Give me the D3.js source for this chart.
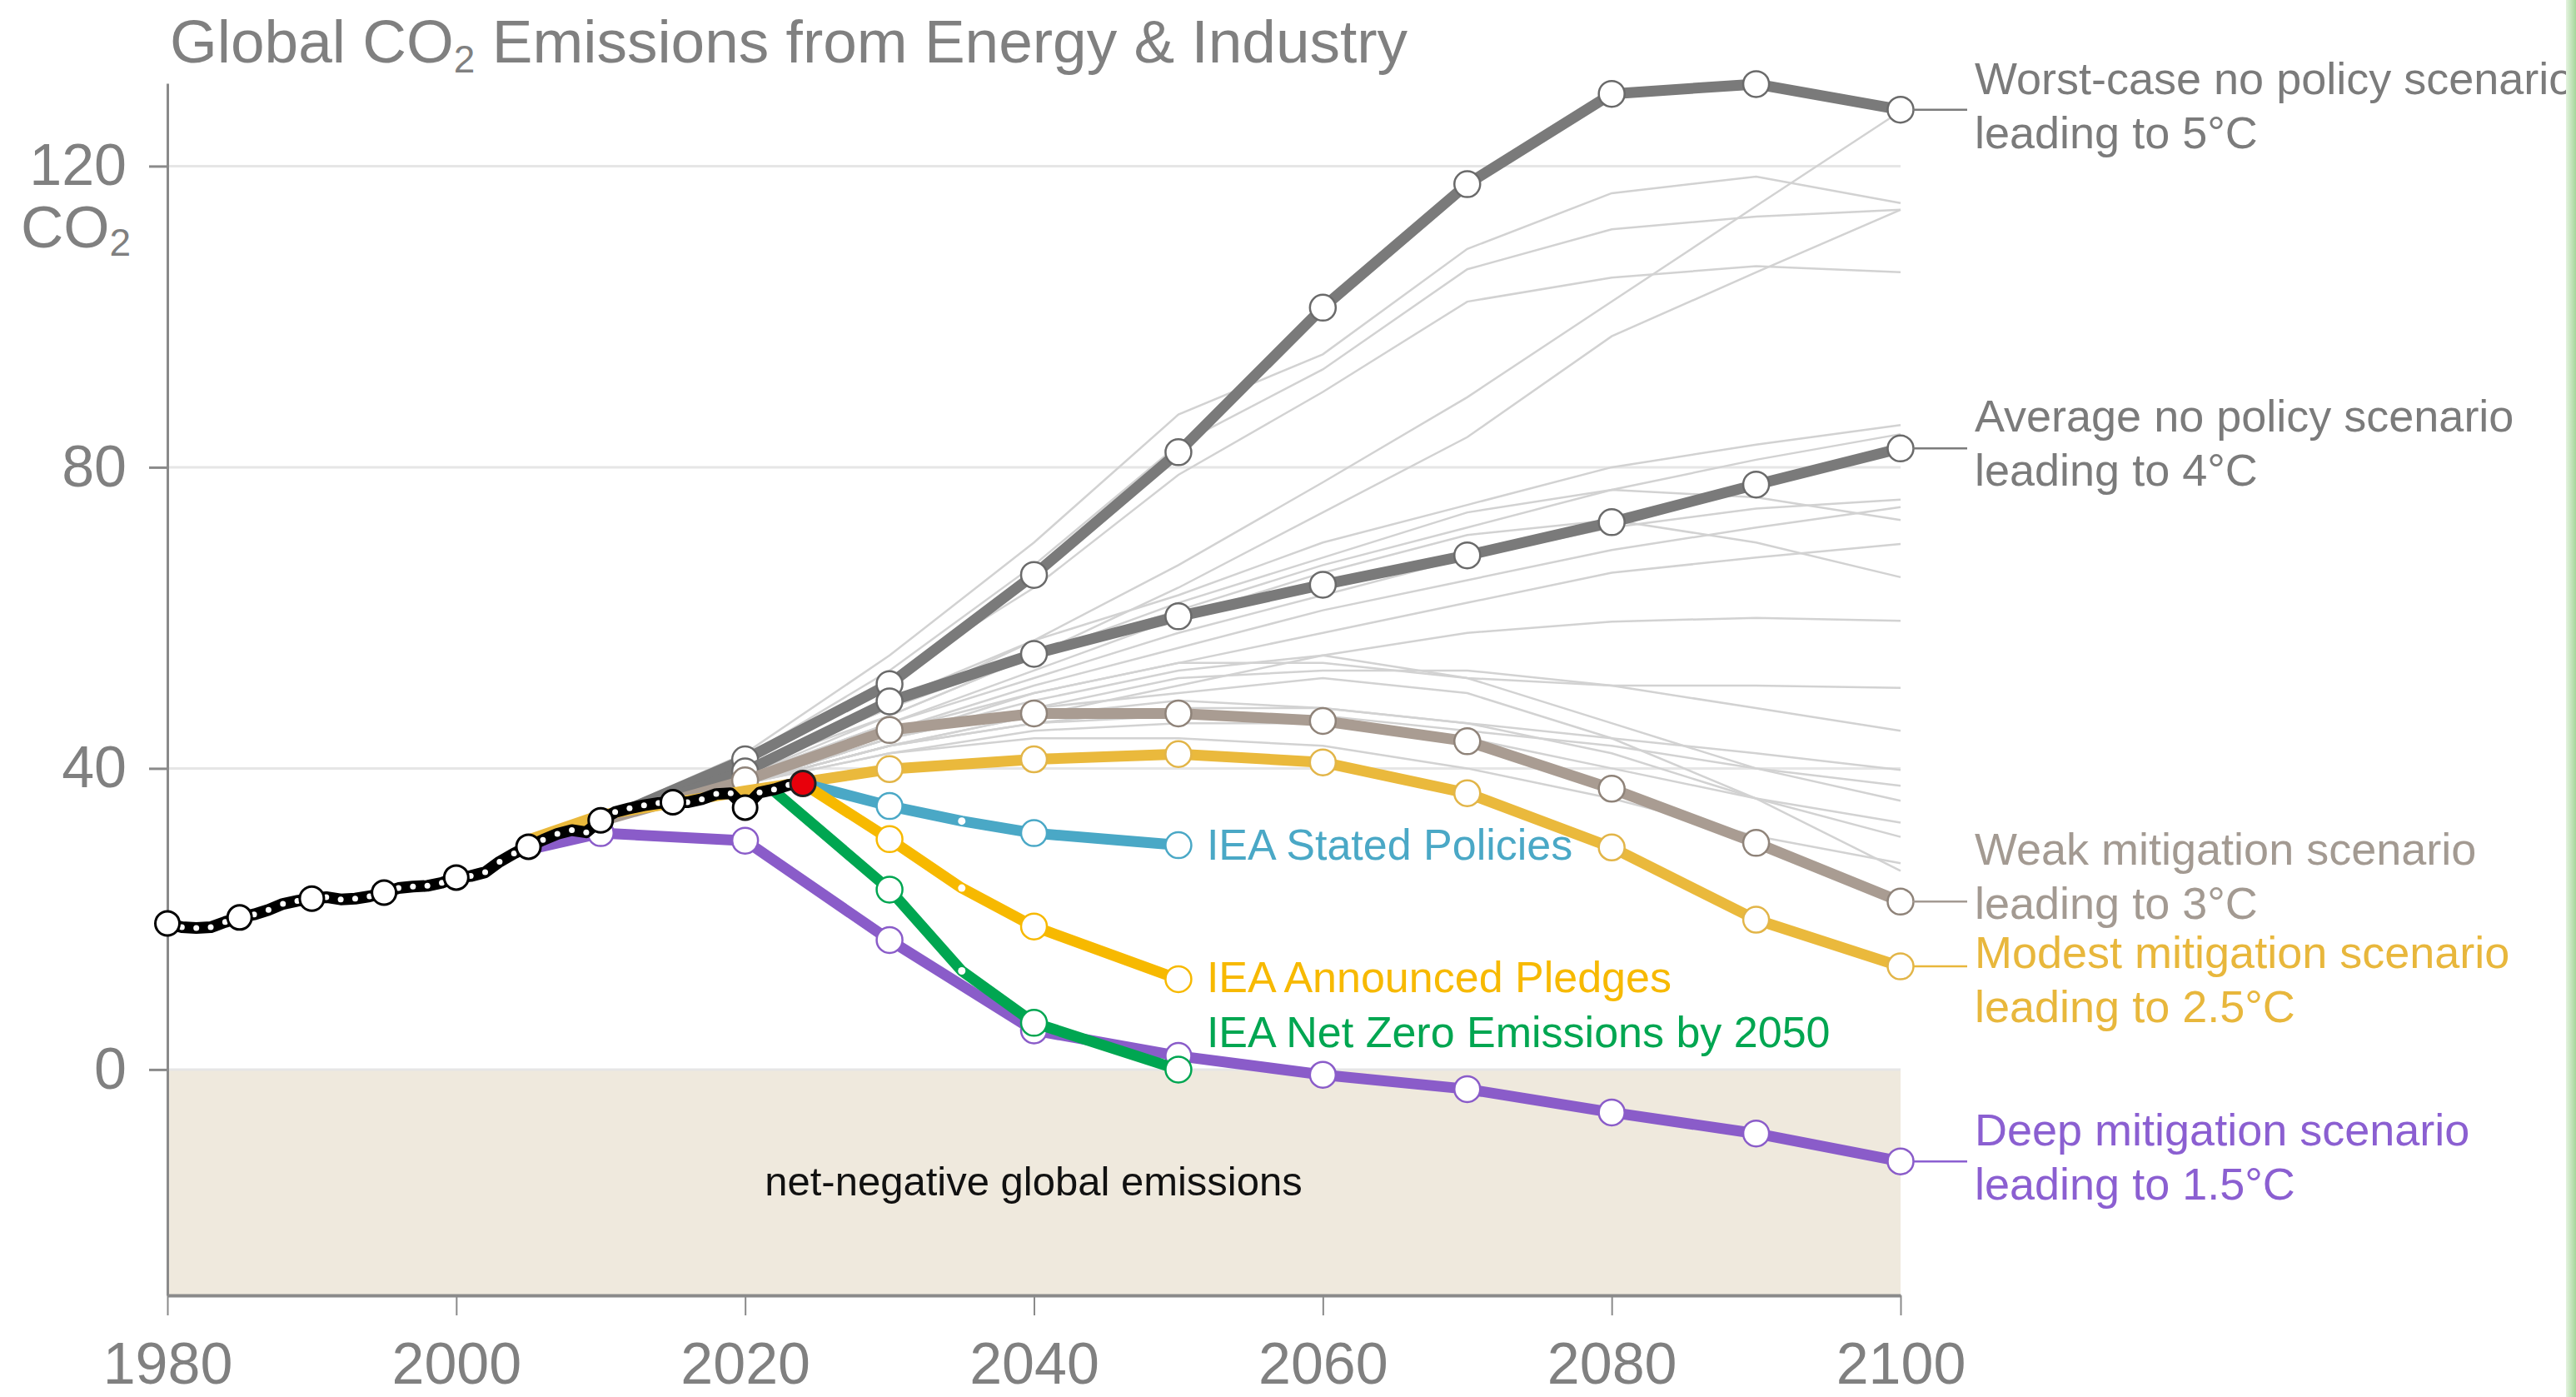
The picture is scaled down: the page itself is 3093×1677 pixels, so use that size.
<!DOCTYPE html>
<html><head><meta charset="utf-8">
<script src="https://cdn.jsdelivr.net/npm/d3@7"></script>
<style>
html,body{margin:0;padding:0;background:#fff;}
svg{display:block;font-family:"Liberation Sans",Arial,Helvetica,sans-serif;}
</style>
</head><body>
<svg id="chart" width="3093" height="1677"></svg>
<script>
// ---------------- DATA ----------------
const xTicks = [1980, 2000, 2020, 2040, 2060, 2080, 2100];
const yTicks = [0, 40, 80, 120];

const histYears = [1980,1981,1982,1983,1984,1985,1986,1987,1988,1989,1990,1991,1992,1993,1994,1995,1996,1997,1998,1999,2000,2001,2002,2003,2004,2005,2006,2007,2008,2009,2010,2011,2012,2013,2014,2015,2016,2017,2018,2019,2020,2021,2022,2023,2024];
const histValues = [19.4,18.9,18.8,18.9,19.6,20.2,20.6,21.2,22.0,22.4,22.7,22.9,22.6,22.7,23.0,23.5,24.1,24.3,24.4,24.8,25.5,25.7,26.2,27.6,28.7,29.6,30.5,31.3,31.8,31.5,33.1,34.2,34.7,35.1,35.4,35.5,35.5,35.9,36.6,36.7,34.8,36.8,37.2,37.8,38.0];

const worstYears  = [2005,2010,2020,2030,2040,2050,2060,2070,2080,2090,2100];
const worstValues = [29.5,33.0,41.2,51.2,65.7,82.0,101.2,117.6,129.6,130.9,127.5];

const avgYears  = [2005,2010,2020,2030,2040,2050,2060,2070,2080,2090,2100];
const avgValues = [29.5,33.0,39.6,48.9,55.2,60.2,64.4,68.3,72.7,77.7,82.5];

const weakYears  = [2010,2020,2030,2040,2050,2060,2070,2080,2090,2100];
const weakValues = [33.0,38.4,45.1,47.3,47.3,46.3,43.6,37.3,30.1,22.3];

const modestYears  = [2005,2010,2020,2030,2040,2050,2060,2070,2080,2090,2100];
const modestValues = [30.5,33.8,37.0,39.9,41.2,41.9,40.8,36.7,29.5,19.9,13.7];

const deepYears  = [2005,2010,2020,2030,2040,2050,2060,2070,2080,2090,2100];
const deepValues = [29.2,31.4,30.4,17.2,5.2,1.8,-0.7,-2.6,-5.7,-8.5,-12.2];

const statedYears  = [2024,2030,2035,2040,2050];
const statedValues = [38.0,35.0,33.0,31.4,29.8];

const pledgesYears  = [2024,2030,2035,2040,2050];
const pledgesValues = [38.0,30.6,24.1,19.0,12.0];

const nzeYears  = [2022,2030,2035,2040,2050];
const nzeValues = [37.0,23.9,13.1,6.2,0.0];

const thinYears = [2010,2020,2030,2040,2050,2060,2070,2080,2090,2100];
const thinLines = [
  [33.5,42.0,55,70,87,95,109,116.4,118.6,115.1],
  [33.5,41.5,53,67,83,93,106.3,111.6,113.3,114.2],
  [33.5,41.0,52,64,79,90,102,105.2,106.7,105.9],
  [33.5,40.0,48,57,67,78,89.3,102,114.7,127.3],
  [33.5,40.0,47,55,64,74,84,97.4,105.9,114.2],
  [33.5,40,49,57,63,70,75,80,83,85.6],
  [33.5,40,48,55,61,67,72,77,81,84.4],
  [33.5,39,46,52,58,63,68,72,74.5,75.7],
  [33.5,39,45,51,56,61,65,69,72,74.7],
  [33.5,39,47,55,62,68,74,77,76,73.0],
  [33.5,39,45,50,54,58,62,66,68,69.8],
  [33.5,39,46,53,60,66,71,73,70,65.4],
  [33.5,38,43,47,51,55,58,59.5,60,59.6],
  [33.5,38,44,50,54,54,52,51,51,50.7],
  [33.5,38,44,48,52,53,53,51,48,45.0],
  [33.5,38,43,46,48,48,46,44,42,39.8],
  [33.5,38,44,49,53,55,52,46,40,35.7],
  [33.5,38,42,45,46,46,44,40,36,32.8],
  [33.5,38,43,47,49,48,46,42,36,30.9],
  [33.5,38,42,44,44,43,40,36,31,27.4],
  [33.5,38,44,48,50,52,50,44,36,26.4],
  [33.5,38,43,46,47,47,45,43,40,37.7]
];

const rightLabels = [
  ["Worst-case no policy scenario", "leading to 5°C"],
  ["Average no policy scenario", "leading to 4°C"],
  ["Weak mitigation scenario", "leading to 3°C"],
  ["Modest mitigation scenario", "leading to 2.5°C"],
  ["Deep mitigation scenario", "leading to 1.5°C"]
];
const ieaLabels = ["IEA Stated Policies", "IEA Announced Pledges", "IEA Net Zero Emissions by 2050"];

// ---------------- LAYOUT / STYLE ----------------
const svg = d3.select("#chart");
const x = d3.scaleLinear().domain([1980, 2100]).range([201, 2282]);
const y = d3.scaleLinear().domain([-30, 131]).range([1555, 100]);
const FONT_GREY = "#808080";
const LW = 13;

svg.append("rect").attr("width", 3093).attr("height", 1677).attr("fill", "#fff");

// negative area
svg.append("rect")
  .attr("x", x(1980)).attr("y", y(0))
  .attr("width", x(2100) - x(1980)).attr("height", y(-30) - y(0))
  .attr("fill", "#efe9dd");

// gridlines
svg.append("g").selectAll("line").data(yTicks).join("line")
  .attr("x1", x(1980)).attr("x2", x(2100))
  .attr("y1", d => y(d)).attr("y2", d => y(d))
  .attr("stroke", "#e6e6e6").attr("stroke-width", 3);

svg.append("text")
  .attr("x", 1241).attr("y", 1435)
  .attr("text-anchor", "middle")
  .attr("font-size", 49).attr("fill", "#111")
  .text("net-negative global emissions");

// axes
const yAxis = svg.append("g").attr("transform", `translate(${x(1980)},0)`)
  .call(d3.axisLeft(y).tickValues(yTicks).tickSize(22).tickPadding(27).tickSizeOuter(0).tickFormat(d3.format("d")));
yAxis.select(".domain").attr("stroke", "#8a8a8a").attr("stroke-width", 3);
yAxis.selectAll(".tick line").attr("stroke", "#8a8a8a").attr("stroke-width", 3);
yAxis.selectAll(".tick text").attr("font-size", 70).attr("fill", FONT_GREY)
  .attr("font-family", '"Liberation Sans",Arial,Helvetica,sans-serif');

const xAxis = svg.append("g").attr("transform", `translate(0,${y(-30)})`)
  .call(d3.axisBottom(x).tickValues(xTicks).tickSize(24).tickPadding(32).tickSizeOuter(0).tickFormat(d3.format("d")));
xAxis.select(".domain").attr("stroke", "#8a8a8a").attr("stroke-width", 4);
xAxis.selectAll(".tick line").attr("stroke", "#8a8a8a").attr("stroke-width", 2);
xAxis.selectAll(".tick text").attr("font-size", 70).attr("fill", FONT_GREY)
  .attr("font-family", '"Liberation Sans",Arial,Helvetica,sans-serif');

// y label CO2
const yl = svg.append("text").attr("x", 25).attr("y", 297).attr("font-size", 71).attr("fill", FONT_GREY);
yl.append("tspan").text("CO");
yl.append("tspan").attr("font-size", 46).attr("dy", 10).text("2");

// title
const tt = svg.append("text").attr("x", 204).attr("y", 75).attr("font-size", 73).attr("fill", FONT_GREY);
tt.append("tspan").text("Global CO");
tt.append("tspan").attr("font-size", 46).attr("dy", 12).text("2");
tt.append("tspan").attr("dy", -12).text(" Emissions from Energy & Industry");

const line = d3.line().x(d => x(d[0])).y(d => y(d[1]));
const zip = (ys, vs) => ys.map((yr, i) => [yr, vs[i]]);

// thin scenario lines
svg.append("g").selectAll("path").data(thinLines).join("path")
  .attr("d", vs => line(zip(thinYears, vs)))
  .attr("fill", "none").attr("stroke", "#d2d2d2").attr("stroke-width", 2.5);

// main scenarios
const series = [
  {years: worstYears, values: worstValues, color: "#7a7a7a", mstroke: "#6a6a6a", markerFrom: 2020, label: 0, shift: -19, tcolor: "#7b7b7b"},
  {years: avgYears, values: avgValues, color: "#7a7a7a", mstroke: "#6a6a6a", markerFrom: 2020, label: 1, shift: -20, tcolor: "#7b7b7b"},
  {years: weakYears, values: weakValues, color: "#a99c92", mstroke: "#8f8379", markerFrom: 2020, label: 2, shift: -44, tcolor: "#a39a92"},
  {years: modestYears, values: modestValues, color: "#eab93c", mstroke: "#e2b548", markerFrom: 2030, label: 3, shift: 2, tcolor: "#e8b73c"},
  {years: deepYears, values: deepValues, color: "#8a5cc9", mstroke: "#8a5cc9", markerFrom: 2010, label: 4, shift: -19, tcolor: "#8b5fd1"}
];
const iea = [
  {years: statedYears, values: statedValues, color: "#4aa8c6", label: 0, shift: 17},
  {years: pledgesYears, values: pledgesValues, color: "#f7b900", label: 1, shift: 16},
  {years: nzeYears, values: nzeValues, color: "#00a651", label: 2, shift: -27}
];

const gMain = svg.append("g");
series.forEach(s => {
  const pts = zip(s.years, s.values);
  const g = gMain.append("g");
  g.append("path").attr("d", line(pts)).attr("fill", "none")
    .attr("stroke", s.color).attr("stroke-width", LW).attr("stroke-linejoin", "round");
  g.selectAll("circle").data(pts.filter(p => p[0] >= s.markerFrom)).join("circle")
    .attr("cx", p => x(p[0])).attr("cy", p => y(p[1])).attr("r", 15.5)
    .attr("fill", "#fff").attr("stroke", s.mstroke).attr("stroke-width", 2.5);
  const last = pts[pts.length - 1];
  const ly = y(last[1]);
  g.append("line").attr("x1", x(last[0]) + 15).attr("x2", 2362)
    .attr("y1", ly).attr("y2", ly).attr("stroke", s.tcolor).attr("stroke-width", 2.5);
  const t = g.append("text").attr("x", 2371).attr("y", ly + s.shift)
    .attr("font-size", 54).attr("fill", s.tcolor);
  rightLabels[s.label].forEach((txt, i) => {
    t.append("tspan").attr("x", 2371).attr("dy", i === 0 ? 0 : 65).text(txt);
  });
});

iea.forEach(s => {
  const pts = zip(s.years, s.values);
  const g = gMain.append("g");
  g.append("path").attr("d", line(pts)).attr("fill", "none")
    .attr("stroke", s.color).attr("stroke-width", LW).attr("stroke-linejoin", "round");
  g.selectAll("circle").data(pts.slice(1)).join("circle")
    .attr("cx", p => x(p[0])).attr("cy", p => y(p[1]))
    .attr("r", p => (p[0] % 10 === 0 ? 15.5 : 4.5))
    .attr("fill", "#fff").attr("stroke", p => (p[0] % 10 === 0 ? s.color : "none")).attr("stroke-width", 2.5);
  const last = pts[pts.length - 1];
  g.append("text").attr("x", x(last[0]) + 34).attr("y", y(last[1]) + s.shift)
    .attr("font-size", 52).attr("fill", s.color).text(ieaLabels[s.label]);
});

// historical
const hist = zip(histYears, histValues);
const gH = svg.append("g");
gH.append("path").attr("d", line(hist)).attr("fill", "none")
  .attr("stroke", "#000").attr("stroke-width", 14).attr("stroke-linejoin", "round").attr("stroke-linecap", "round");
gH.selectAll("circle.s").data(hist.filter(p => p[0] % 5 !== 0 && p[0] !== 2024)).join("circle")
  .attr("class", "s").attr("cx", p => x(p[0])).attr("cy", p => y(p[1])).attr("r", 3.5).attr("fill", "#fff");
gH.selectAll("circle.b").data(hist.filter(p => p[0] % 5 === 0)).join("circle")
  .attr("class", "b").attr("cx", p => x(p[0])).attr("cy", p => y(p[1])).attr("r", 14.5)
  .attr("fill", "#fff").attr("stroke", "#000").attr("stroke-width", 3);
const lastH = hist[hist.length - 1];
gH.append("circle").attr("cx", x(lastH[0])).attr("cy", y(lastH[1])).attr("r", 15)
  .attr("fill", "#e8000b").attr("stroke", "#222").attr("stroke-width", 3);

// right green strip
const defs = svg.append("defs");
const gr = defs.append("linearGradient").attr("id", "gstrip").attr("x1", 0).attr("x2", 1).attr("y1", 0).attr("y2", 0);
gr.append("stop").attr("offset", "0%").attr("stop-color", "#e4f3df");
gr.append("stop").attr("offset", "100%").attr("stop-color", "#a5d69a");
svg.append("rect").attr("x", 3081).attr("y", 0).attr("width", 12).attr("height", 1677).attr("fill", "url(#gstrip)");
</script>
</body></html>
